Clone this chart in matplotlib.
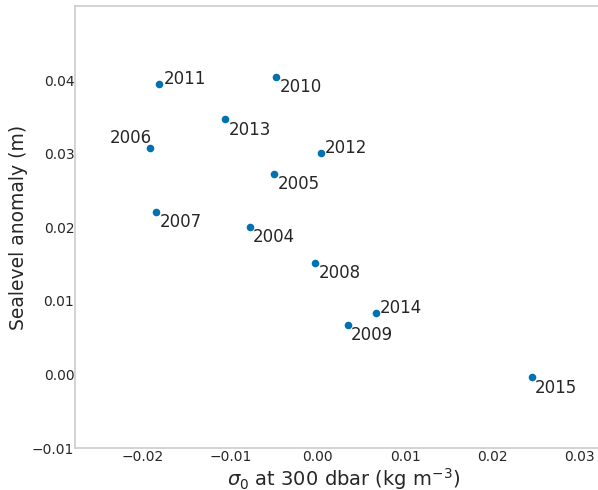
import matplotlib
matplotlib.use("Agg")
import matplotlib.pyplot as plt

years = ["2004", "2005", "2006", "2007", "2008", "2009", "2010",
         "2011", "2012", "2013", "2014", "2015"]
sigma0 = [-0.00779, -0.00497, -0.01924, -0.01852, -0.00031, 0.00343,
          -0.00475, -0.01814, 0.00034, -0.01058, 0.00663, 0.02449]
sealevel = [0.02007, 0.02727, 0.03075, 0.02215, 0.01522, 0.00675,
            0.04049, 0.03944, 0.03012, 0.03469, 0.00833, -0.00041]
# label placement: 'rb' right-below, 'ra' right-above, 'la' left-above
placement = ["rb", "rb", "la", "rb", "rb", "rb", "rb", "ra", "ra", "rb", "ra", "rb"]

plt.rcParams['font.family'] = ['DejaVu Sans']
txt = '#262626'

fig = plt.figure(figsize=(5.98, 4.90), dpi=100)
# axes extends slightly past the right edge of the figure (as in reference)
ax = fig.add_axes([75.3 / 598, 42 / 490, (611 - 75.3) / 598, (448 - 6) / 490])

ax.scatter(sigma0, sealevel, s=30, color='#0072B2', linewidths=0, zorder=3)

offsets = {"rb": ((2.4, -11.0), 'left'),
           "ra": ((3.0, 0.0), 'left'),
           "la": ((1.5, 4.0), 'right')}
for x, y, lab, p in zip(sigma0, sealevel, years, placement):
    off, ha = offsets[p]
    ax.annotate(lab, (x, y), xytext=off, textcoords='offset points',
                ha=ha, va='baseline', fontsize=12, color=txt)

ax.set_xlim(-0.02776, 0.03357)
ax.set_ylim(-0.01, 0.0501)
ax.set_xticks([-0.02, -0.01, 0.0, 0.01, 0.02, 0.03])
ax.set_yticks([-0.01, 0.0, 0.01, 0.02, 0.03, 0.04])
ax.set_xticklabels(["\u22120.02", "\u22120.01", "0.00", "0.01", "0.02", "0.03"])
ax.set_yticklabels(["\u22120.01", "0.00", "0.01", "0.02", "0.03", "0.04"])
ax.tick_params(axis='x', length=0, pad=1.5, labelsize=10, colors=txt)
ax.tick_params(axis='y', length=0, pad=0.7, labelsize=10, colors=txt)

for s in ['left', 'bottom', 'top']:
    ax.spines[s].set_color('#cccccc')
    ax.spines[s].set_linewidth(1.2)
ax.spines['right'].set_visible(False)

ax.set_xlabel(r'$\sigma_0$ at 300 dbar (kg m$^{-3}$)', fontsize=14, color=txt, labelpad=1.5)
ax.set_ylabel('Sealevel anomaly (m)', fontsize=13.5, color=txt, labelpad=3)

fig.savefig('out.png', dpi=100)
